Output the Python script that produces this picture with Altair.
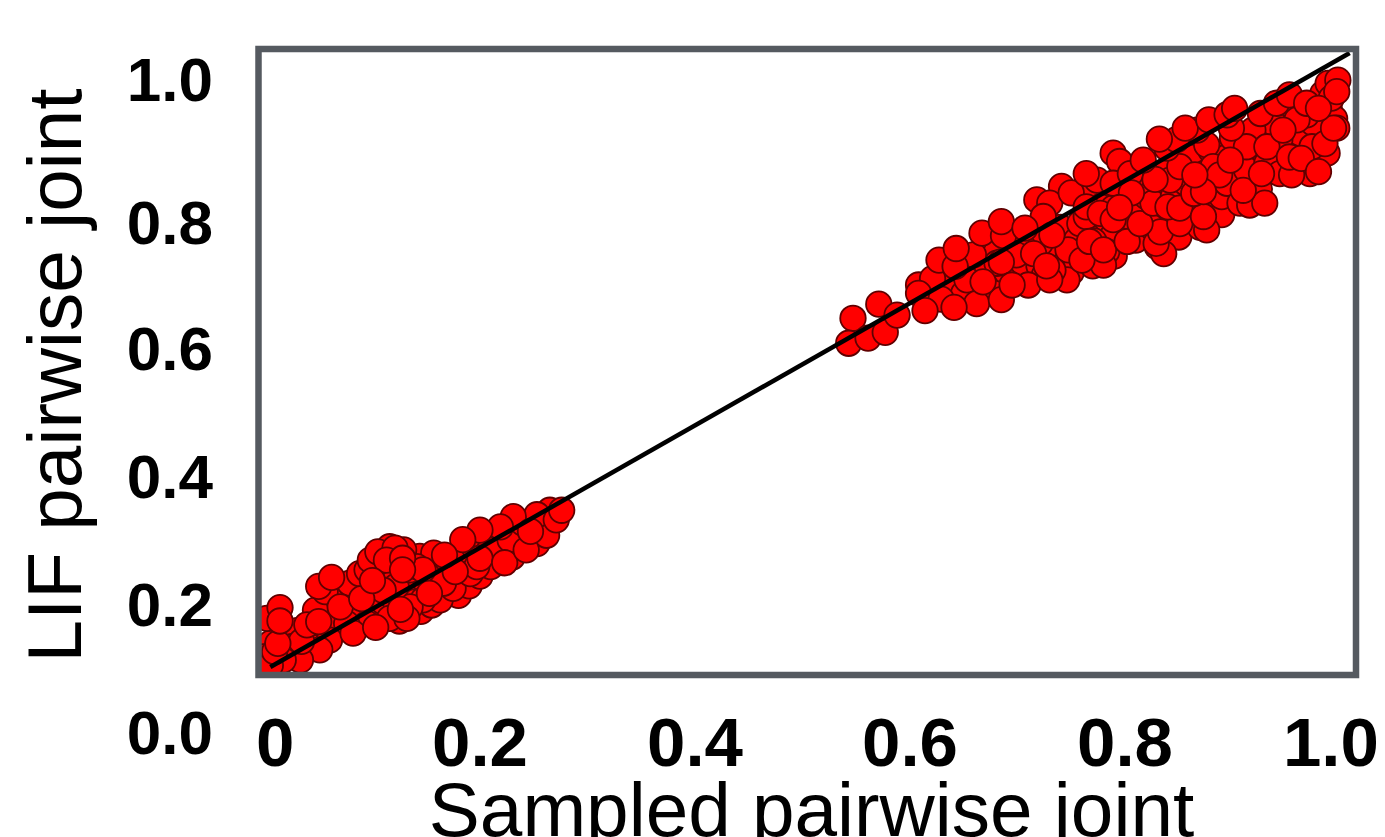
import altair as alt
import pandas as pd

x_fill_low = [.005,.012,.020,.022,.030,.035,.045,.050,.055,.060,.065,.068,.075,.080,.085,.090,.095,.100,.105,.110,.115,.120,.125,.130,.135,.140,.145,.150,.155,.160,.165,.170,.175,.180,.185,.190,.195,.200,.205,.210,.215,.220,.225,.230,.235,.240,.245,.250,.255,.260,.265]
y_fill_low = [.140,.115,.150,.125,.160,.125,.145,.190,.155,.170,.210,.170,.190,.210,.175,.190,.230,.200,.180,.205,.250,.210,.175,.220,.235,.205,.190,.235,.200,.255,.225,.270,.240,.215,.270,.230,.290,.245,.300,.260,.305,.280,.310,.275,.325,.290,.330,.305,.325,.320,.335]

x_low = [.155,.163,.175,.166,.147,.135,.116,.132,.095,.076,.122,.144,.157,.135,.141,.147,.191,.197,.209,.228,.253,.262,.265,.240,
         .070,.079,.088,.095,.104,.116,.129,.048,.042,.025,.042,.002,-.002,.060,.051,.033,.017,.005,
         .253,.231,.219,.200,.184,.098,.105,.121,.113,.128,.110,.153,.177,.200,.223,.243,.247,.271,.276,.167,
         .034,.009,.012,.047,.039,.050,.056,.050,.070,.090,.082,.103,.126,.100,.128,.062,.014,.014]
y_low = [.234,.208,.226,.234,.208,.197,.179,.179,.171,.171,.229,.276,.281,.255,.260,.255,.249,.260,.286,.302,.296,.309,.348,.328,
         .223,.234,.249,.255,.265,.291,.286,.156,.171,.135,.135,.179,.119,.145,.130,.114,.114,.106,
         .341,.338,.322,.317,.302,.270,.283,.289,.270,.273,.223,.218,.252,.273,.266,.286,.315,.333,.348,.278,
         .143,.127,.140,.192,.169,.174,.221,.229,.197,.210,.156,.165,.193,.238,.255,.243,.196,.175]

x_fill_high = [.625,.638,.650,.665,.672,.680,.690,.700,.705,.712,.720,.725,.735,.740,.742,.750,.755,.760,.765,.770,.775,.780,.785,.790,.795,.800,.805,.810,.815,.820,.825,.830,.835,.840,.845,.850,.855,.860,.865,.870,.875,.880,.885,.890,.895,.900,.905,.910,.915,.920,.925,.930,.935,.940,.945,.950,.955,.960,.965,.970,.975,.980,.985,.990,.993,.995]
y_fill_high = [.690,.700,.720,.690,.725,.750,.720,.710,.735,.770,.730,.715,.750,.790,.730,.720,.770,.800,.755,.730,.790,.830,.765,.745,.785,.845,.800,.770,.820,.860,.790,.760,.840,.880,.805,.775,.860,.900,.820,.790,.875,.910,.840,.810,.900,.930,.860,.845,.895,.930,.850,.905,.940,.885,.905,.960,.895,.930,.955,.900,.935,.960,.950,.975,1.000,.960]

x_mid = [.741,.764,.718,.730,.724,.758,.777,.789,.764,.783,.789,.783,.780,.721,.705,.747,.746,.710,.678,.650,.681,.653,.733,
         .608,.621,.608,.629,.662,.699,.715,.685,.659,.627,.642,.643,.667,.687,.685,.707,.732,.750,.771,.760,
         .547,.571,.543,.561,.577,.588,.614,.641,.685,.668,.695,.730,.727]
y_mid = [.854,.854,.833,.828,.807,.796,.822,.820,.807,.802,.778,.752,.731,.765,.760,.755,.708,.700,.687,.687,.734,.708,.723,
         .700,.710,.687,.678,.671,.747,.749,.736,.747,.739,.729,.757,.781,.777,.799,.789,.778,.844,.769,.739,
         .648,.670,.609,.617,.626,.653,.660,.665,.677,.705,.700,.708,.730]

x_high = [.789,.795,.767,.780,.802,.836,.829,.833,.814,.851,.764,.777,.789,.774,.764,.789,.805,.820,.826,.845,.857,.842,.851,.890,.895,
          .913,.932,.944,.957,.972,.963,.975,.944,.938,.919,.913,.839,.848,.876,.867,.856,.878,.899,.895,.902,.926,.941,.953,
          .882,.888,.907,.916,.930,.910,.840,.851,.876,.873,.864,.873,.865,.806,.795,.828,.817,.832,.898,.927,.932,.955,.953,
          .988,.997,.969,.984,.960,.947,.969,.989,.998,.992,.997,.974,.986,.994,.964,.980,.980]
y_high = [.906,.893,.768,.755,.768,.749,.765,.783,.796,.796,.822,.812,.802,.864,.874,.859,.874,.838,.828,.838,.859,.864,.885,.838,.859,
          .880,.890,.874,.885,.874,.937,.953,.927,.953,.942,.916,.914,.927,.919,.942,.945,.958,.945,.966,.976,.968,.984,.997,
          .885,.872,.828,.825,.828,.848,.822,.820,.786,.807,.843,.846,.872,.844,.821,.865,.895,.928,.895,.874,.916,.872,.900,
          .906,.945,.966,.999,.958,.942,.984,1.015,1.020,.992,1.002,.916,.921,.945,.898,.877,.976]

line_x = [.005, 1.009]
line_y = [.103, 1.0625]

x_tick_pos = [.0095, .2, .4, .6, .8, .9916]
x_tick_text = ["0", "0.2", "0.4", "0.6", "0.8", "1.0"]
y_tick_pos = [0, .2, .4, .6, .797, 1.02]
y_tick_text = ["0.0", "0.2", "0.4", "0.6", "0.8", "1.0"]

X_DOM = [-0.006, 1.0149]
Y_DOM = [0.0906, 1.06875]
FRAME = "#555a60"
FONT = "Liberation Sans"
xs = alt.Scale(domain=X_DOM, nice=False, zero=False)
ys = alt.Scale(domain=Y_DOM, nice=False, zero=False)

points = pd.DataFrame({"x": x_fill_low + x_low + x_fill_high + x_mid + x_high,
                       "y": y_fill_low + y_low + y_fill_high + y_mid + y_high})
points["i"] = range(len(points))

x_axis = alt.Axis(title="Sampled pairwise joint", labels=False, ticks=False, domain=False, grid=False,
                  titleFont=FONT, titleFontSize=76.5, titleFontWeight="normal", titleColor="black",
                  titleX=552.5, titleY=160, titleBaseline="alphabetic", titleAlign="center")
y_axis = alt.Axis(title="LIF pairwise joint", labels=False, ticks=False, domain=False, grid=False,
                  titleFont=FONT, titleFontSize=76.5, titleFontWeight="normal", titleColor="black",
                  titleX=-178.5, titleY=326, titleAngle=270, titleBaseline="alphabetic", titleAlign="center")

scatter = alt.Chart(points).mark_circle(
    size=650, color="#ff0000", opacity=1, stroke="#600000", strokeWidth=1.8, clip=True
).encode(
    x=alt.X("x:Q", scale=xs, axis=x_axis),
    y=alt.Y("y:Q", scale=ys, axis=y_axis),
    order=alt.Order("i:Q"),
)

line = alt.Chart(pd.DataFrame({"x": line_x, "y": line_y})).mark_line(color="black", strokeWidth=4.5, clip=True).encode(
    x=alt.X("x:Q", scale=xs, axis=x_axis), y=alt.Y("y:Q", scale=ys, axis=y_axis)
)

frame = alt.Chart(pd.DataFrame({"x": [X_DOM[0]], "x2": [X_DOM[1]], "y": [Y_DOM[0]], "y2": [Y_DOM[1]]})).mark_rect(
    filled=False, stroke=FRAME, strokeWidth=6.5
).encode(
    x=alt.X("x:Q", scale=xs, axis=x_axis), x2="x2:Q",
    y=alt.Y("y:Q", scale=ys, axis=y_axis), y2="y2:Q",
)

x_labels = alt.Chart(pd.DataFrame({"p": x_tick_pos, "t": x_tick_text})).mark_text(
    font=FONT, fontSize=69, fontWeight="bold", color="black", baseline="alphabetic", align="center"
).encode(x=alt.X("p:Q", scale=xs, axis=x_axis), y=alt.value(717), text="t:N")

y_labels = alt.Chart(pd.DataFrame({"p": y_tick_pos, "t": y_tick_text})).mark_text(
    font=FONT, fontSize=62, fontWeight="bold", color="black", baseline="middle", align="right", dy=2
).encode(x=alt.value(-45.5), y=alt.Y("p:Q", scale=ys, axis=y_axis), text="t:N")

chart = alt.layer(scatter, line, frame, x_labels, y_labels).resolve_scale(x="shared", y="shared").properties(
    width=1097.5, height=626,
    padding={"left": 250.5, "top": 41, "right": 21, "bottom": 162},
    autosize="none",
    background="white",
).configure_view(stroke=None)

chart.save("out.html", embed_options={"renderer": "svg", "actions": False})
